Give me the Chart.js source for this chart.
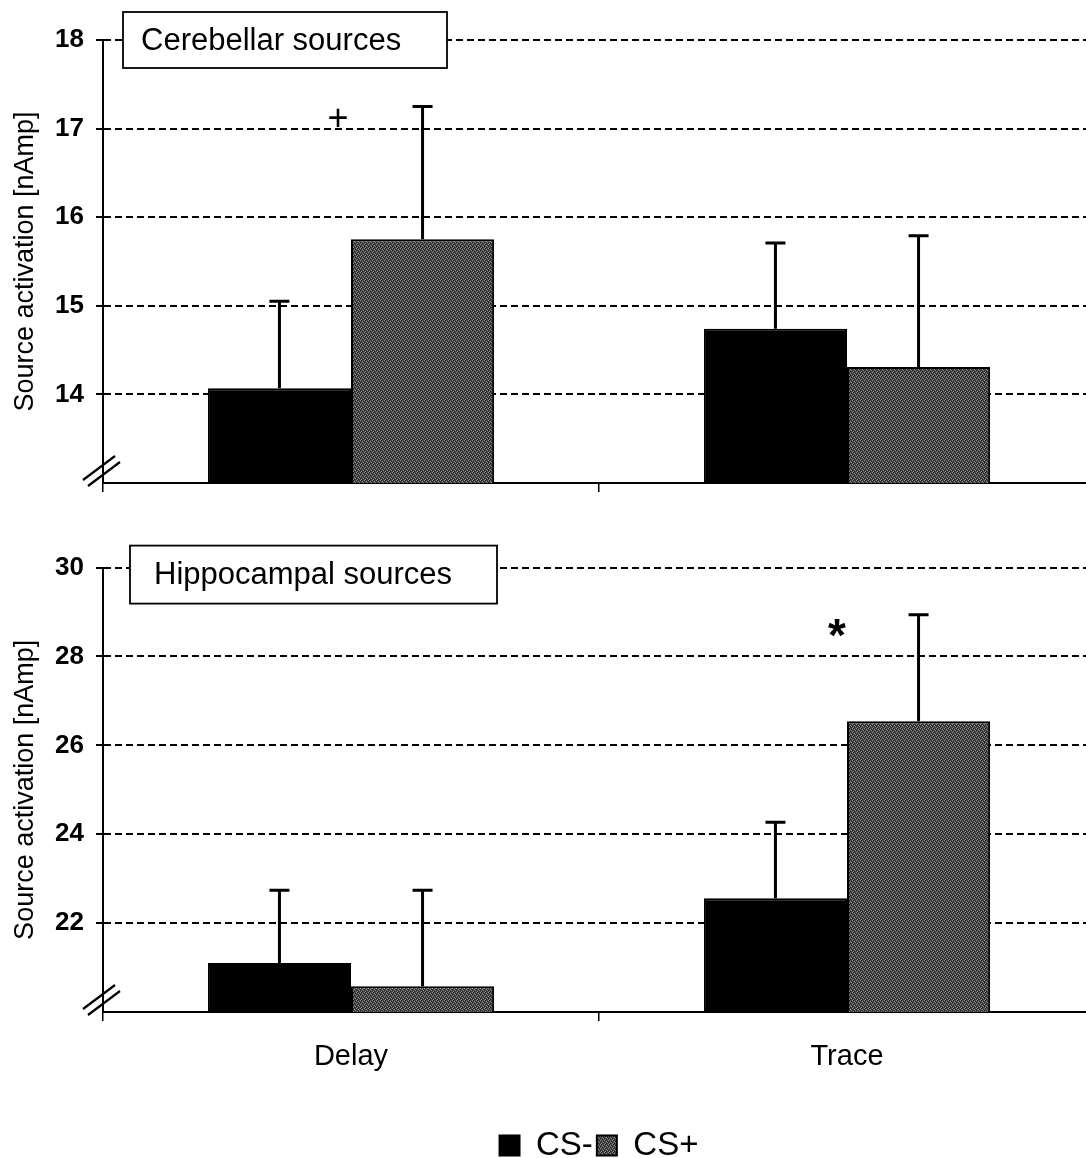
<!DOCTYPE html>
<html><head><meta charset="utf-8">
<script src="https://cdn.jsdelivr.net/npm/chart.js@4.4.1/dist/chart.umd.min.js"></script>
<style>
html,body{margin:0;padding:0;background:#fff;overflow:hidden;width:1086px;height:1158px;position:relative;}
#c1{position:absolute;left:0;top:0;}
#c2{position:absolute;left:0;top:540px;}
</style></head><body>
<canvas id="c1" width="1095" height="540"></canvas>
<canvas id="c2" width="1095" height="632"></canvas>
<script>
// ---------- data ----------
const categories = ['Delay', 'Trace'];
const seriesNames = ['CS-', 'CS+'];

const cerebMeansCSminus = [14.07, 14.74];
const cerebMeansCSplus  = [15.75, 14.31];
const cerebErrCSminus   = [0.98, 0.97];
const cerebErrCSplus    = [1.50, 1.48];

const hippoMeansCSminus = [21.10, 22.56];
const hippoMeansCSplus  = [20.58, 26.54];
const hippoErrCSminus   = [1.64, 1.71];
const hippoErrCSplus    = [2.16, 2.40];

const cerebTicks = [14, 15, 16, 17, 18];
const hippoTicks = [22, 24, 26, 28, 30];

const panelTitles = ['Cerebellar sources', 'Hippocampal sources'];
const yAxisTitle = 'Source activation [nAmp]';

// ---------- styling ----------
const FONT = '"Liberation Sans", Arial, Helvetica, sans-serif';

function makePattern() {
  const p = document.createElement('canvas');
  p.width = 4; p.height = 4;
  const g = p.getContext('2d');
  g.fillStyle = '#454545'; g.fillRect(0, 0, 4, 4);
  g.fillStyle = '#8c8c8c';
  [[0,0],[2,1],[1,3],[3,2]].forEach(([x,y]) => g.fillRect(x, y, 1, 1));
  g.fillStyle = '#202020';
  [[1,0],[3,1],[0,2],[2,3]].forEach(([x,y]) => g.fillRect(x, y, 1, 1));
  return g.createPattern(p, 'repeat');
}
const stipple = makePattern();

const decorPlugin = {
  id: 'decor',
  afterDatasetsDraw(chart, args, opts) {
    const ctx = chart.ctx;
    const yS = chart.scales.y, xS = chart.scales.x;
    // error bars (upper only)
    opts.errors.forEach((errs, di) => {
      const meta = chart.getDatasetMeta(di);
      const means = chart.data.datasets[di].data;
      meta.data.forEach((el, j) => {
        const yTop = yS.getPixelForValue(means[j] + errs[j]);
        ctx.save();
        ctx.strokeStyle = '#000';
        ctx.lineWidth = 3;
        ctx.beginPath();
        ctx.moveTo(el.x, el.y);
        ctx.lineTo(el.x, yTop);
        ctx.moveTo(el.x - 10, yTop);
        ctx.lineTo(el.x + 10, yTop);
        ctx.stroke();
        ctx.restore();
      });
    });
    // significance markers
    (opts.markers || []).forEach(m => {
      ctx.save();
      ctx.fillStyle = '#000';
      ctx.font = m.font;
      ctx.textAlign = 'center';
      ctx.textBaseline = 'middle';
      ctx.fillText(m.text, xS.getPixelForValue(m.cat) + m.dx, yS.getPixelForValue(m.value) + m.dy);
      ctx.restore();
    });
  },
  afterDraw(chart, args, opts) {
    const ctx = chart.ctx;
    const a = chart.chartArea;
    // axis break marks
    ctx.save();
    ctx.strokeStyle = '#000';
    ctx.lineWidth = 2.2;
    ctx.beginPath();
    ctx.moveTo(a.left - 20, a.bottom - 3); ctx.lineTo(a.left + 12, a.bottom - 27);
    ctx.moveTo(a.left - 15, a.bottom + 3); ctx.lineTo(a.left + 17, a.bottom - 21);
    ctx.stroke();
    ctx.restore();
    // title box
    const b = opts.box;
    ctx.save();
    ctx.fillStyle = '#fff';
    ctx.strokeStyle = '#000';
    ctx.lineWidth = 1.8;
    const bx = a.left + b.dx, by = a.top + b.dy;
    ctx.fillRect(bx, by, b.w, b.h);
    ctx.strokeRect(bx, by, b.w, b.h);
    ctx.fillStyle = '#000';
    ctx.font = '31px ' + FONT;
    ctx.textAlign = 'left';
    ctx.textBaseline = 'middle';
    ctx.fillText(b.text, bx + b.tx, by + b.h / 2 + 1);
    ctx.restore();
  }
};

function makeChart(id, o) {
  const hidden = 'rgba(0,0,0,0)';
  return new Chart(document.getElementById(id), {
    type: 'bar',
    data: {
      labels: categories,
      datasets: [
        { label: seriesNames[0], data: o.m1, backgroundColor: '#000', borderColor: '#000', borderWidth: 2,
          categoryPercentage: 0.577, barPercentage: 1 },
        { label: seriesNames[1], data: o.m2, backgroundColor: stipple, borderColor: '#000', borderWidth: 2,
          categoryPercentage: 0.577, barPercentage: 1 }
      ]
    },
    options: {
      responsive: false,
      animation: false,
      devicePixelRatio: 1,
      layout: { padding: { top: o.padTop, left: 0, right: 0, bottom: 0 } },
      plugins: {
        tooltip: { enabled: false },
        legend: o.legend ? {
          display: true, position: 'bottom', fullSize: false, align: 'center',
          labels: { boxWidth: 20, boxHeight: 20, color: '#000', padding: 4,
                    font: { family: FONT, size: 33 } }
        } : { display: false },
        decor: { errors: o.errs, markers: o.markers, box: o.box }
      },
      scales: {
        x: {
          afterFit: s => { s.height = o.xH; },
          offset: true,
          ticks: { display: o.xLabels, color: '#000', padding: 19, font: { family: FONT, size: 29 } },
          grid: { display: true, drawOnChartArea: false, drawTicks: true, tickLength: 9,
                  color: '#000', tickColor: '#000', lineWidth: 1.5, tickWidth: 1.5, offset: true },
          border: { display: true, color: '#000', width: 2 }
        },
        y: {
          min: o.min, max: o.max,
          afterFit: s => { s.width = 103; },
          afterBuildTicks: s => { s.ticks = [o.min].concat(o.ticks).map(v => ({ value: v })); },
          ticks: { color: '#000', padding: 12, font: { family: FONT, size: 26, weight: 'bold' },
                   callback: v => (v === o.min ? '' : String(v)) },
          grid: {
            color: c => (c.tick && c.tick.value === o.min ? hidden : '#000'),
            tickColor: c => (c.tick && c.tick.value === o.min ? hidden : '#000'),
            lineWidth: 2, tickWidth: 2, tickLength: 7
          },
          border: { display: true, color: '#000', width: 2, dash: [7, 4] },
          title: { display: true, text: yAxisTitle, color: '#000', padding: { top: 9 },
                   font: { family: FONT, size: 27 } }
        }
      }
    },
    plugins: [decorPlugin]
  });
}

makeChart('c1', {
  m1: cerebMeansCSminus, m2: cerebMeansCSplus, errs: [cerebErrCSminus, cerebErrCSplus],
  min: 13, max: 18, ticks: cerebTicks, padTop: 40, xH: 57, xLabels: false, legend: false,
  markers: [{ text: '+', cat: 0, value: 17.1, dx: -13, dy: 0, font: '36px ' + FONT }],
  box: { text: panelTitles[0], dx: 20, dy: -28, w: 324, h: 56, tx: 18 }
});

makeChart('c2', {
  m1: hippoMeansCSminus, m2: hippoMeansCSplus, errs: [hippoErrCSminus, hippoErrCSplus],
  min: 20, max: 30, ticks: hippoTicks, padTop: 27, xH: 113, xLabels: true, legend: true,
  markers: [{ text: '*', cat: 1, value: 28.6, dx: -10, dy: 8, font: 'bold 46px ' + FONT }],
  box: { text: panelTitles[1], dx: 27, dy: -22, w: 367, h: 58, tx: 24 }
});
</script>
</body></html>
